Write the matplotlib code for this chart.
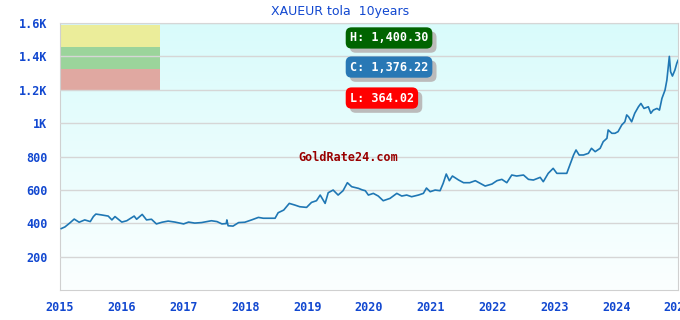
import matplotlib
matplotlib.use("Agg")
import matplotlib.pyplot as plt
import matplotlib.patheffects as pe
import numpy as np

# price of one tola in EUR (decimal year, value)
years = [
    2015.02, 2015.08, 2015.16, 2015.23, 2015.31, 2015.40, 2015.49, 2015.54, 2015.58, 2015.67,
    2015.78, 2015.84, 2015.89, 2016.00, 2016.08, 2016.20, 2016.24, 2016.33, 2016.40, 2016.48,
    2016.56, 2016.65, 2016.75, 2016.86, 2017.00, 2017.08, 2017.18, 2017.29, 2017.45, 2017.54,
    2017.62, 2017.69, 2017.70, 2017.72, 2017.80, 2017.89, 2017.99, 2018.10, 2018.21, 2018.29,
    2018.40, 2018.48, 2018.53, 2018.62, 2018.71, 2018.80, 2018.88, 2018.99, 2019.07, 2019.15,
    2019.21, 2019.29, 2019.34, 2019.42, 2019.50, 2019.58, 2019.65, 2019.72, 2019.83, 2019.89,
    2019.94, 2019.99, 2020.07, 2020.15, 2020.23, 2020.34, 2020.45, 2020.53, 2020.61, 2020.69,
    2020.80, 2020.88, 2020.93, 2020.99, 2021.07, 2021.15, 2021.20, 2021.25, 2021.30, 2021.35,
    2021.45, 2021.53, 2021.63, 2021.72, 2021.80, 2021.88, 2021.99, 2022.07, 2022.15, 2022.23,
    2022.31, 2022.39, 2022.50, 2022.58, 2022.66, 2022.77, 2022.82, 2022.90, 2022.98, 2023.04,
    2023.20, 2023.25, 2023.31, 2023.35, 2023.40, 2023.47, 2023.55, 2023.60, 2023.66, 2023.74,
    2023.79, 2023.85, 2023.87, 2023.93, 2023.98, 2024.03, 2024.09, 2024.14, 2024.17, 2024.20,
    2024.25, 2024.30, 2024.36, 2024.40, 2024.45, 2024.52, 2024.56, 2024.60, 2024.66, 2024.70,
    2024.74, 2024.79, 2024.82, 2024.86, 2024.88, 2024.91, 2024.95, 2024.98, 2025.00,
]
prices = [
    368, 378, 402, 425, 406, 420, 410, 440, 455, 450,
    443, 420, 440, 407, 415, 443, 424, 453, 420, 424,
    396, 406, 413, 407, 396, 407, 401, 404, 415, 410,
    396, 398, 420, 385, 383, 404, 406, 420, 435, 430,
    430, 430, 463, 479, 519, 509, 499, 495, 525, 535,
    569, 519, 583, 599, 569, 595, 643, 619, 609, 600,
    595, 569, 579, 563, 535, 549, 579, 563, 569, 559,
    569, 579, 611, 589, 599, 595, 639, 695, 655, 683,
    659, 643, 643, 655, 639, 623, 635, 655, 663, 643,
    689, 683, 689, 663, 659, 675, 649, 699, 729, 699,
    699, 749, 809, 839, 809, 809, 819, 849, 829, 849,
    889, 909, 959, 939, 939, 949, 989, 1008, 1049, 1038,
    1008, 1059, 1098, 1118, 1088, 1098, 1059, 1078, 1088, 1078,
    1148, 1198, 1258, 1400, 1308, 1282, 1318, 1358, 1376,
]

title = "XAUEUR tola  10years"
year_ticks = list(range(2015, 2026))
value_ticks = [200, 400, 600, 800, 1000, 1200, 1400, 1600]
value_labels = ["200", "400", "600", "800", "1K", "1.2K", "1.4K", "1.6K"]

# summary boxes: label, box colour
summary = [("H: 1,400.30", "#006400"), ("C: 1,376.22", "#2878b5"), ("L: 364.02", "#ff0000")]

# colour bands at top left (value ranges)
bands = [(1454, 1590, "#ebed9a"), (1322, 1454, "#9bd49b"), (1194, 1322, "#e0a8a1")]

mono = "DejaVu Sans Mono"
blue = "#1248d0"

fig = plt.figure(figsize=(6.8, 3.2), dpi=100)
ax = fig.add_axes([60 / 680, 30 / 320, 618 / 680, 267 / 320])

# gradient background
top = np.array([0.85, 0.985, 0.985])
bottom = np.array([0.985, 1.0, 1.0])
grad = np.linspace(0, 1, 256)[:, None, None]
img = top * (1 - grad) + bottom * grad
ax.imshow(img, extent=[0, 1, 0, 1], transform=ax.transAxes, aspect="auto", zorder=0)

for lo, hi, c in bands:
    ax.axhspan(lo, hi, xmin=0, xmax=0.162, color=c, zorder=1, lw=0)

ax.plot(years, prices, color="#1f77b4", lw=1.2, zorder=3)

ax.set_xlim(2015, 2025)
ax.set_ylim(0, 1600)
ax.set_xticks(year_ticks)
ax.set_xticklabels([str(y) for y in year_ticks])
ax.set_yticks(value_ticks)
ax.set_yticklabels(value_labels)
ax.grid(axis="y", color="#d6d6d6", lw=1, zorder=2)
ax.set_axisbelow(False)
ax.tick_params(length=0, labelsize=8.5, labelcolor=blue)
ax.tick_params(axis="x", pad=8)
ax.tick_params(axis="y", pad=9)
for lbl in ax.get_xticklabels() + ax.get_yticklabels():
    lbl.set_fontfamily(mono)
    lbl.set_fontweight("bold")
for s in ax.spines.values():
    s.set_color("#d0d0d0")

fig.text(0.5, 0.965, title, ha="center", va="center", fontsize=9, color=blue)

ax.text(0.466, 0.497, "GoldRate24.com", transform=ax.transAxes, ha="center", va="center",
        fontsize=8.5, fontfamily=mono, fontweight="bold", color="#990000", zorder=4)

ys = [0.944, 0.835, 0.719]
for (txt, c), y in zip(summary, ys):
    t = ax.text(0.469, y, txt, transform=ax.transAxes, ha="left", va="center", fontsize=8.5,
                fontfamily=mono, fontweight="bold", color="white", zorder=5,
                bbox=dict(boxstyle="round,pad=0.35,rounding_size=0.5", fc=c, ec="none"))
    t.get_bbox_patch().set_path_effects([
        pe.SimplePatchShadow(offset=(3, -3), shadow_rgbFace="#bbbbbb", alpha=1.0),
        pe.Normal(),
    ])

fig.savefig("out.png", dpi=100)
